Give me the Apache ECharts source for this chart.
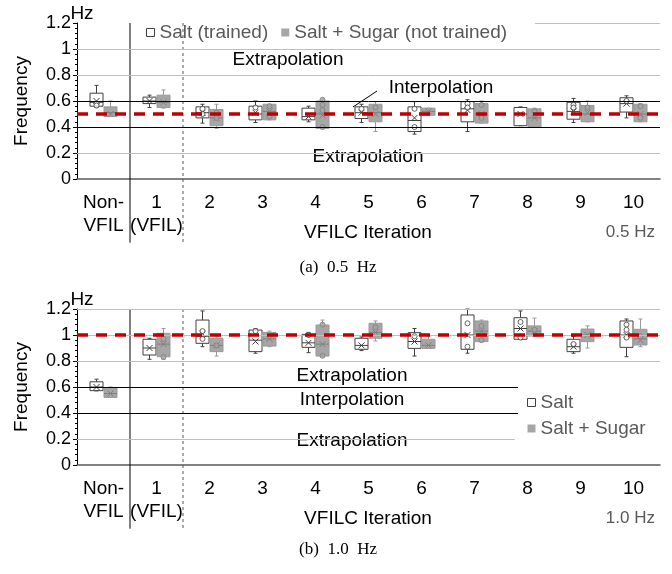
<!DOCTYPE html>
<html>
<head>
<meta charset="utf-8">
<script src="https://cdn.jsdelivr.net/npm/echarts@6/dist/echarts.min.js"></script>
<style>
  html, body { margin: 0; padding: 0; background: #fff; }
  #chart { width: 672px; height: 574px; }
</style>
</head>
<body>
<div id="chart"></div>
<script>
// Categories along the x axis
const CATEGORIES = ['Non-\nVFIL', '1\n(VFIL)', '2', '3', '4', '5', '6', '7', '8', '9', '10']

// Box stats per category: [min, q1, median, q3, max, mean]
const SALT_05 = [
  [0.55, 0.56, 0.59, 0.66, 0.72, 0.60],
  [0.55, 0.58, 0.60, 0.63, 0.645, 0.60],
  [0.43, 0.47, 0.51, 0.555, 0.575, 0.51],
  [0.435, 0.455, 0.50, 0.56, 0.60, 0.51],
  [0.44, 0.455, 0.48, 0.545, 0.56, 0.48],
  [0.435, 0.465, 0.51, 0.555, 0.575, 0.51],
  [0.345, 0.365, 0.45, 0.555, 0.595, 0.47],
  [0.365, 0.44, 0.54, 0.595, 0.61, 0.53],
  [0.41, 0.41, 0.50, 0.55, 0.555, 0.50],
  [0.435, 0.46, 0.52, 0.59, 0.62, 0.52],
  [0.47, 0.515, 0.58, 0.625, 0.64, 0.58],
]
const SUGAR_05 = [
  [0.48, 0.48, 0.51, 0.555, 0.60, 0.50],
  [0.545, 0.55, 0.59, 0.645, 0.685, 0.59],
  [0.39, 0.41, 0.47, 0.535, 0.575, 0.47],
  [0.455, 0.455, 0.52, 0.575, 0.575, 0.52],
  [0.385, 0.39, 0.50, 0.60, 0.615, 0.49],
  [0.365, 0.44, 0.51, 0.575, 0.595, 0.50],
  [0.49, 0.49, 0.52, 0.545, 0.545, 0.52],
  [0.43, 0.43, 0.50, 0.58, 0.60, 0.50],
  [0.40, 0.40, 0.47, 0.54, 0.545, 0.47],
  [0.44, 0.44, 0.50, 0.565, 0.60, 0.51],
  [0.44, 0.44, 0.50, 0.575, 0.58, 0.50],
]
const SALT_10 = [
  [0.57, 0.572, 0.60, 0.64, 0.66, 0.60],
  [0.813, 0.846, 0.90, 0.967, 0.975, 0.90],
  [0.91, 0.936, 0.99, 1.115, 1.185, 1.01],
  [0.86, 0.872, 0.96, 1.038, 1.05, 0.95],
  [0.864, 0.905, 0.94, 1.005, 1.02, 0.94],
  [0.88, 0.89, 0.92, 0.975, 0.985, 0.92],
  [0.838, 0.897, 0.95, 1.018, 1.05, 0.95],
  [0.86, 0.89, 1.0, 1.154, 1.2, 1.0],
  [0.967, 0.967, 1.05, 1.133, 1.185, 1.05],
  [0.86, 0.872, 0.91, 0.967, 0.99, 0.91],
  [0.833, 0.905, 1.0, 1.108, 1.123, 1.0],
]
const SUGAR_10 = [
  [0.52, 0.52, 0.55, 0.595, 0.60, 0.55],
  [0.813, 0.833, 0.93, 1.013, 1.05, 0.93],
  [0.838, 0.872, 0.92, 0.975, 0.987, 0.92],
  [0.91, 0.915, 0.97, 1.02, 1.03, 0.97],
  [0.833, 0.838, 0.93, 1.077, 1.115, 0.93],
  [0.954, 0.975, 1.02, 1.09, 1.108, 1.02],
  [0.897, 0.897, 0.92, 0.967, 0.99, 0.92],
  [0.949, 0.949, 1.03, 1.108, 1.115, 1.03],
  [0.992, 0.992, 1.03, 1.07, 1.13, 1.03],
  [0.90, 0.949, 1.0, 1.046, 1.07, 1.0],
  [0.91, 0.923, 0.97, 1.044, 1.123, 0.96],
]

// Inner points drawn as small circles: [category index, value]
const SALT_05_PTS = [[0, 0.58], [0, 0.565], [2, 0.54], [2, 0.50], [3, 0.55], [5, 0.54], [6, 0.54], [6, 0.40],
  [7, 0.58], [7, 0.55], [9, 0.57], [9, 0.55], [10, 0.60]]
const SUGAR_05_PTS = [[2, 0.51], [2, 0.47], [3, 0.56], [3, 0.48], [4, 0.61], [4, 0.57], [4, 0.53], [4, 0.40],
  [5, 0.55], [7, 0.57], [7, 0.47], [8, 0.52], [9, 0.55], [10, 0.56], [10, 0.47]]
const SALT_10_PTS = [[2, 1.03], [2, 0.97], [3, 1.03], [4, 1.0], [6, 0.99], [7, 1.09], [7, 0.91], [8, 1.1],
  [8, 0.98], [9, 0.93], [10, 1.08], [10, 1.04], [10, 0.98]]
const SUGAR_10_PTS = [[1, 0.97], [1, 0.83], [2, 0.92], [4, 1.08], [4, 0.84], [5, 1.06], [7, 1.07], [7, 0.96],
  [8, 1.04], [10, 0.99]]

const TARGET_05 = 0.5
const TARGET_10 = 1.0
const INTERP_RANGE = [0.4, 0.6]
const Y_MIN = 0
const Y_MAX = 1.2
const Y_STEP = 0.2

const FONT = 'Liberation Sans'
const FS = 19
const GRAY_TEXT = '#595959'
const COLOR_TARGET = '#c00000'
const GRID_GRAY = '#bfbfbf'
const SALT_STROKE = '#404040'
const SUGAR_FILL = '#a6a6a6'
const SUGAR_STROKE = '#9a9a9a'
const SUGAR_MARK = '#7f7f7f'

const chart = echarts.init(document.getElementById('chart'))

// Box drawer. offset is pixels from the category center
function boxRenderer(offset, fill, stroke, markColor) {
  return (params, api) => {
    const xv = api.value(0)
    const py = (v) => api.coord([xv, v])[1]
    const cx = api.coord([xv, 0])[0] + offset
    const yMin = py(api.value(1))
    const yQ1 = py(api.value(2))
    const yMed = py(api.value(3))
    const yQ3 = py(api.value(4))
    const yMax = py(api.value(5))
    const yMean = py(api.value(6))
    const hw = 6.5
    const line = (x1, y1, x2, y2, color) => ({
      type: 'line',
      shape: { x1, y1, x2, y2 },
      style: { stroke: color, lineWidth: 1 },
    })
    return {
      type: 'group',
      children: [
        line(cx, yMin, cx, yQ1, stroke),
        line(cx, yQ3, cx, yMax, stroke),
        line(cx - 2, yMin, cx + 2, yMin, stroke),
        line(cx - 2, yMax, cx + 2, yMax, stroke),
        {
          type: 'rect',
          shape: { x: cx - hw, y: yQ3, width: hw * 2, height: yQ1 - yQ3 },
          style: { fill, stroke, lineWidth: 1 },
        },
        line(cx - hw, yMed, cx + hw, yMed, markColor),
        line(cx - 3, yMean - 3, cx + 3, yMean + 3, markColor),
        line(cx - 3, yMean + 3, cx + 3, yMean - 3, markColor),
      ],
    }
  }
}

const toBoxData = (rows) => rows.map((r, i) => [i + 0.5, ...r])
const toPtsData = (pts) => pts.map(([c, v]) => [c + 0.5, v])

// Vertical separators (solid after Non-VFIL, dashed after VFIL) running down into the label area
function separatorRenderer(params, api) {
  const top = api.coord([api.value(0), Y_MAX])
  const bottom = api.coord([api.value(0), -0.49])
  const dashed = api.value(1) === 1
  return {
    type: 'line',
    shape: { x1: top[0], y1: top[1], x2: bottom[0], y2: bottom[1] },
    style: {
      stroke: dashed ? '#595959' : '#000',
      lineWidth: 1,
      lineDash: dashed ? [3, 3] : null,
    },
  }
}

function hLine(y, x0, x1, color, width, type) {
  return [
    { coord: [x0, y], lineStyle: { color, width, type } },
    { coord: [x1, y] },
  ]
}

function panelSeries(idx, salt, sugar, saltPts, sugarPts, names, target, gridSpec) {
  const xValAxis = idx * 2 + 1
  return [
    {
      type: 'line',
      name: 'refs' + idx,
      xAxisIndex: xValAxis,
      yAxisIndex: idx,
      data: [],
      silent: true,
      z: 1,
      markLine: {
        symbol: 'none',
        silent: true,
        label: { show: false },
        animation: false,
        data: gridSpec,
      },
    },
    {
      type: 'custom',
      name: 'sep' + idx,
      xAxisIndex: xValAxis,
      yAxisIndex: idx,
      silent: true,
      z: 2,
      data: [[1, 0], [2, 1]],
      renderItem: separatorRenderer,
    },
    {
      type: 'custom',
      name: names[0],
      xAxisIndex: xValAxis,
      yAxisIndex: idx,
      z: 3,
      itemStyle: { color: '#fff', borderColor: SALT_STROKE },
      encode: { x: 0, y: [1, 2, 3, 4, 5, 6] },
      data: toBoxData(salt),
      renderItem: boxRenderer(-7, '#fff', SALT_STROKE, SALT_STROKE),
    },
    {
      type: 'custom',
      name: names[1],
      xAxisIndex: xValAxis,
      yAxisIndex: idx,
      z: 3,
      itemStyle: { color: SUGAR_FILL },
      encode: { x: 0, y: [1, 2, 3, 4, 5, 6] },
      data: toBoxData(sugar),
      renderItem: boxRenderer(7, SUGAR_FILL, SUGAR_STROKE, SUGAR_MARK),
    },
    {
      type: 'scatter',
      name: 'saltPts' + idx,
      xAxisIndex: xValAxis,
      yAxisIndex: idx,
      z: 4,
      silent: true,
      symbol: 'circle',
      symbolSize: 5,
      symbolOffset: [-7, 0],
      itemStyle: { color: '#fff', borderColor: SALT_STROKE, borderWidth: 1 },
      data: toPtsData(saltPts),
    },
    {
      type: 'scatter',
      name: 'sugarPts' + idx,
      xAxisIndex: xValAxis,
      yAxisIndex: idx,
      z: 4,
      silent: true,
      symbol: 'circle',
      symbolSize: 5,
      symbolOffset: [7, 0],
      itemStyle: { color: SUGAR_FILL, borderColor: SUGAR_MARK, borderWidth: 1 },
      data: toPtsData(sugarPts),
    },
    {
      type: 'line',
      name: 'target' + idx,
      xAxisIndex: xValAxis,
      yAxisIndex: idx,
      data: [],
      silent: true,
      z: 10,
      markLine: {
        symbol: 'none',
        silent: true,
        label: { show: false },
        animation: false,
        data: [hLine(target, 0, 11, COLOR_TARGET, 3.5, [11, 8])],
      },
    },
  ]
}

const gridA = [
  hLine(0.2, 0, 11, GRID_GRAY, 1, 'solid'),
  hLine(0.8, 0, 11, GRID_GRAY, 1, 'solid'),
  hLine(1.0, 0, 11, GRID_GRAY, 1, 'solid'),
  hLine(1.2, 8.64, 11, GRID_GRAY, 1, 'solid'),
  hLine(INTERP_RANGE[0], 0, 11, '#000', 1, 'solid'),
  hLine(INTERP_RANGE[1], 0, 11, '#000', 1, 'solid'),
]
const gridB = [
  hLine(0.2, 0, 8.26, GRID_GRAY, 1, 'solid'),
  hLine(0.8, 0, 11, GRID_GRAY, 1, 'solid'),
  hLine(1.0, 0, 11, GRID_GRAY, 1, 'solid'),
  hLine(1.2, 0, 11, GRID_GRAY, 1, 'solid'),
  hLine(INTERP_RANGE[0], 0, 8.32, '#000', 1, 'solid'),
  hLine(INTERP_RANGE[1], 0, 8.32, '#000', 1, 'solid'),
]

function catAxis(gridIndex) {
  return {
    type: 'category',
    gridIndex,
    data: CATEGORIES,
    boundaryGap: true,
    axisLine: { show: true, lineStyle: { color: '#595959', width: 1.5 } },
    axisTick: { show: false },
    axisLabel: {
      color: '#000',
      fontFamily: FONT,
      fontSize: FS,
      lineHeight: 23,
      margin: 12,
      interval: 0,
    },
    splitLine: { show: false },
  }
}

function valXAxis(gridIndex) {
  return { type: 'value', gridIndex, min: 0, max: 11, show: false }
}

function yAxis(gridIndex) {
  return {
    type: 'value',
    gridIndex,
    min: Y_MIN,
    max: Y_MAX,
    interval: Y_STEP,
    axisLine: { show: true, lineStyle: { color: '#000', width: 1 } },
    axisTick: { show: true, length: 4, lineStyle: { color: '#000' } },
    minorTick: { show: true, splitNumber: 5, length: 2, lineStyle: { color: '#000' } },
    splitLine: { show: false },
    axisLabel: { color: '#000', fontFamily: FONT, fontSize: 18, margin: 6 },
  }
}

const txt = (x, y, text, extra, rotation) => ({
  type: 'text',
  x,
  y,
  rotation: rotation || 0,
  silent: true,
  style: Object.assign(
    { text, fontFamily: FONT, fontSize: FS, fill: '#000', align: 'center', verticalAlign: 'middle' },
    extra || {}
  ),
})

const legendText = { color: GRAY_TEXT, fontFamily: FONT, fontSize: FS }
const SALT_ICON = { color: '#fff', borderColor: SALT_STROKE, borderWidth: 1 }
const SUGAR_ICON = { color: SUGAR_FILL, borderWidth: 0 }

chart.setOption({
  animation: false,
  backgroundColor: '#fff',
  grid: [
    { left: 77, top: 23, width: 583, height: 156 },
    { left: 77, top: 309, width: 583, height: 156 },
  ],
  xAxis: [catAxis(0), valXAxis(0), catAxis(1), valXAxis(1)],
  yAxis: [yAxis(0), yAxis(1)],
  legend: [
    {
      left: 141,
      top: 18,
      itemWidth: 8,
      itemHeight: 8,
      itemGap: 13,
      textStyle: legendText,
      selectedMode: false,
      data: [
        { name: 'Salt (trained)', icon: 'rect', itemStyle: SALT_ICON },
        { name: 'Salt + Sugar (not trained)', icon: 'rect', itemStyle: SUGAR_ICON },
      ],
    },
    {
      left: 522,
      top: 388,
      orient: 'vertical',
      itemWidth: 8,
      itemHeight: 8,
      itemGap: 7,
      textStyle: legendText,
      selectedMode: false,
      data: [
        { name: 'Salt', icon: 'rect', itemStyle: SALT_ICON },
        { name: 'Salt + Sugar', icon: 'rect', itemStyle: SUGAR_ICON },
      ],
    },
  ],
  series: [
    ...panelSeries(0, SALT_05, SUGAR_05, SALT_05_PTS, SUGAR_05_PTS,
      ['Salt (trained)', 'Salt + Sugar (not trained)'], TARGET_05, gridA),
    ...panelSeries(1, SALT_10, SUGAR_10, SALT_10_PTS, SUGAR_10_PTS,
      ['Salt', 'Salt + Sugar'], TARGET_10, gridB),
  ],
  graphic: [
    // panel (a)
    txt(82, 14, 'Hz'),
    txt(22, 101, 'Frequency', {}, Math.PI / 2),
    txt(288, 60, 'Extrapolation'),
    txt(441, 88, 'Interpolation'),
    { type: 'line', silent: true, shape: { x1: 353, y1: 107, x2: 377, y2: 91 }, style: { stroke: '#000', lineWidth: 1 } },
    txt(368, 157, 'Extrapolation'),
    txt(368, 233, 'VFILC Iteration'),
    txt(655, 232, '0.5 Hz', { align: 'right', fill: GRAY_TEXT, fontSize: 17 }),
    txt(338, 268, '(a)  0.5  Hz', { fontFamily: 'Liberation Serif', fontSize: 17 }),
    // panel (b)
    txt(82, 300, 'Hz'),
    txt(22, 387, 'Frequency', {}, Math.PI / 2),
    txt(352, 376, 'Extrapolation'),
    txt(352, 400, 'Interpolation'),
    txt(352, 441, 'Extrapolation'),
    txt(368, 519, 'VFILC Iteration'),
    txt(655, 518, '1.0 Hz', { align: 'right', fill: GRAY_TEXT, fontSize: 17 }),
    txt(338, 550, '(b)  1.0  Hz', { fontFamily: 'Liberation Serif', fontSize: 17 }),
  ],
})
</script>
</body>
</html>
